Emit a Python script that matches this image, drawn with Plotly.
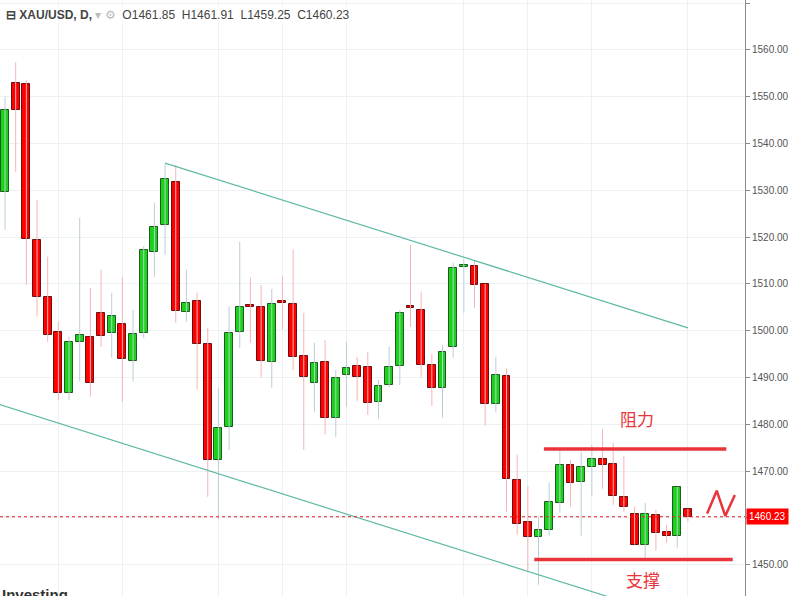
import plotly.graph_objects as go

opens = [1529.6,1552.9,1552.7,1519.4,1507.2,1499.7,1486.7,1497.6,1498.7,1503.8,1499.5,1501.5,1493.6,1499.5,1516.8,1522.6,1531.8,1504.0,1506.4,1497.2,1472.4,1479.5,1499.7,1505.5,1505.1,1493.3,1506.4,1505.7,1494.6,1488.9,1493.3,1481.4,1490.6,1492.5,1492.3,1484.8,1488.4,1492.5,1505.1,1504.4,1492.7,1487.8,1496.5,1513.6,1513.8,1510.0,1484.4,1490.4,1468.1,1459.2,1456.0,1457.3,1463.2,1471.3,1467.7,1470.9,1472.6,1471.6,1464.5,1460.9,1454.1,1460.7,1457.0,1456.2,1461.85]
closes = [1547.1,1547.1,1519.6,1507.2,1499.1,1486.7,1497.6,1499.1,1488.9,1498.9,1503.2,1494.0,1499.3,1517.3,1522.2,1532.4,1504.2,1505.9,1497.2,1472.4,1479.2,1499.5,1505.1,1505.1,1493.6,1505.7,1505.9,1494.4,1490.1,1493.1,1481.4,1489.9,1492.1,1490.1,1484.6,1488.2,1492.3,1503.8,1504.9,1492.7,1487.8,1495.5,1513.4,1514.1,1509.8,1484.4,1490.6,1468.4,1458.7,1456.0,1457.3,1463.4,1471.3,1467.5,1470.9,1472.6,1471.3,1464.7,1462.4,1454.3,1460.9,1456.7,1456.2,1466.6,1460.23]
highs = [1550.0,1557.4,1553.5,1527.9,1515.8,1501.9,1498.7,1524.1,1509.1,1513.0,1508.1,1511.5,1504.4,1518.0,1527.3,1535.6,1535.4,1513.0,1508.1,1500.6,1487.8,1505.1,1519.0,1511.3,1509.8,1508.9,1511.7,1517.3,1503.8,1497.4,1498.0,1491.6,1497.6,1494.4,1495.5,1489.5,1496.5,1504.4,1518.3,1508.3,1495.0,1497.0,1514.5,1515.2,1514.9,1510.0,1494.4,1492.0,1473.5,1466.8,1460.2,1467.5,1474.3,1472.4,1474.1,1475.6,1479.0,1476.0,1473.3,1462.4,1463.2,1461.7,1458.5,1466.6,1461.91]
lows = [1521.5,1533.9,1509.8,1503.0,1497.6,1485.2,1485.2,1489.1,1485.9,1496.5,1494.2,1484.8,1489.1,1498.4,1511.5,1516.2,1501.7,1501.9,1487.4,1464.5,1459.6,1474.5,1496.3,1497.4,1490.1,1487.8,1500.2,1491.6,1474.5,1482.7,1477.8,1477.3,1483.7,1485.0,1482.0,1481.2,1487.8,1488.4,1500.8,1490.1,1483.9,1481.4,1494.2,1503.8,1504.9,1479.7,1482.5,1461.3,1456.4,1448.5,1445.7,1456.2,1461.1,1462.4,1456.2,1464.7,1466.2,1462.8,1461.3,1454.3,1451.5,1453.0,1454.7,1453.6,1459.25]
last_price = 1460.23
upper_channel_x = [15, 64]; upper_channel_y = [1535.8, 1500.6]
lower_channel_x = [-0.5, 57]; lower_channel_y = [1484.2, 1442.8]
resist_x = [50.5, 67.6]; resist_y = [1474.7, 1474.7]
support_x = [49.6, 68.2]; support_y = [1451.1, 1451.1]
n_x = [65.8, 66.7, 67.5, 68.4]; n_y = [1460.9, 1465.8, 1460.4, 1464.9]
y_ticks = [1450,1460,1470,1480,1490,1500,1510,1520,1530,1540,1550,1560,1570]

GREEN, RED = "#19d219", "#ff0000"
idx = list(range(len(opens)))
fig = go.Figure()

for up in (True, False):
    wx, wy = [], []
    for i in idx:
        if (closes[i] >= opens[i]) == up:
            wx += [i, i, None]; wy += [lows[i], highs[i], None]
    fig.add_trace(go.Scatter(x=wx, y=wy, mode="lines", line=dict(color="#b9cfd6" if up else "#f5b5b5", width=1), hoverinfo="skip"))
for up in (True, False):
    sel = [i for i in idx if (closes[i] >= opens[i]) == up]
    fig.add_trace(go.Bar(x=sel, base=[min(opens[i], closes[i]) for i in sel],
                         y=[max(abs(closes[i]-opens[i]), 0.35) for i in sel], width=0.74,
                         marker=dict(color=GREEN if up else RED, line=dict(color="#1f5a1f" if up else "#6b1010", width=1))))

fig.add_trace(go.Scatter(x=upper_channel_x, y=upper_channel_y, mode="lines", line=dict(color="#5fb8a6", width=1.2)))
fig.add_trace(go.Scatter(x=lower_channel_x, y=lower_channel_y, mode="lines", line=dict(color="#5fb8a6", width=1.2)))
for xs, ys in ((resist_x, resist_y), (support_x, support_y)):
    fig.add_trace(go.Scatter(x=xs, y=ys, mode="lines", line=dict(color="#e8343a", width=3.5)))
fig.add_trace(go.Scatter(x=n_x, y=n_y, mode="lines", line=dict(color="#e8343a", width=2.5)))

fig.add_hline(y=last_price, line=dict(color="#e02020", width=1, dash="dot"))
fig.add_annotation(x=1, xref="paper", y=last_price, text="1460.23", showarrow=False, xanchor="left",
                   bgcolor="#ff0000", font=dict(color="white", size=10, family="Arial"), borderpad=2, xshift=1)
fig.add_annotation(x=59.2, y=1481.2, text="阻力", showarrow=False, font=dict(color="#e8343a", size=17, family="Noto Sans CJK SC"))
fig.add_annotation(x=59.8, y=1446.8, text="支撑", showarrow=False, font=dict(color="#e8343a", size=17, family="Noto Sans CJK SC"))
fig.add_annotation(x=0.005, xref="paper", y=1, yref="paper", yanchor="top", xanchor="left", showarrow=False,
                   text="<b>⊟ XAU/USD, D,</b> <span style='color:#bbb'>▾ ⚙</span>  O1461.85  H1461.91  L1459.25  C1460.23",
                   font=dict(size=12, color="#444", family="Arial"), bgcolor="white", yshift=-6)
fig.add_annotation(x=0.0, xref="paper", y=0, yref="paper", yanchor="bottom", xanchor="left", showarrow=False,
                   text="<b>Investing</b>", font=dict(size=15, color="#333", family="Arial"), yshift=-9)

fig.update_layout(width=796, height=596, margin=dict(l=0, r=51, t=0, b=0), paper_bgcolor="white",
                  plot_bgcolor="white", showlegend=False, barmode="overlay", bargap=0)
fig.update_xaxes(range=[-0.47, 69.35], showticklabels=False, zeroline=False, automargin=False,
                 tickvals=[5, 11, 20, 26, 32, 43, 49, 55, 64], showline=False, showgrid=True, gridcolor="#eef1f3")
fig.update_yaxes(range=[1443.3, 1570.64], side="right", tickvals=y_ticks, ticktext=[f"{v:.2f}" for v in y_ticks],
                 gridcolor="#eef1f3", showline=True, linecolor="#888", ticks="outside", ticklen=4, tickcolor="#888",
                 tickfont=dict(size=10, color="#555", family="Arial"), zeroline=False, automargin=False)
fig.write_html("out.html", config={"displayModeBar": False},
               post_script="document.body.style.margin='0';document.body.style.overflow='hidden';")
